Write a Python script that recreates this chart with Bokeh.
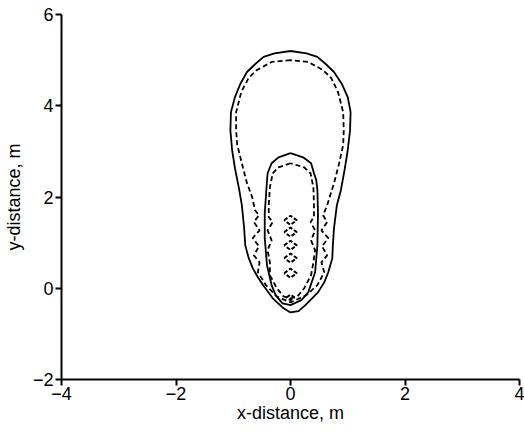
from bokeh.plotting import figure
from bokeh.models import Range1d, FixedTicker
from bokeh.embed import file_html
from bokeh.resources import INLINE

# ---- data (in metres) ----
x_ticks = [-4, -2, 0, 2, 4]
y_ticks = [-2, 0, 2, 4, 6]
tick_text = {-4: "\u22124", -2: "\u22122", 0: "0", 2: "2", 4: "4", 6: "6"}
x_title = "x-distance, m"
y_title = "y-distance, m"

outer_solid_x = [0, -0.28, -0.47, -0.62, -0.76, -0.88, -0.97, -1.04, -1.05, -1.02, -0.97, -0.90,
                 -0.85, -0.81, -0.79, -0.73, -0.66, -0.57, -0.48, -0.31, -0.14, 0,
                 0.14, 0.26, 0.48, 0.59, 0.66, 0.73, 0.74, 0.76, 0.81, 0.88, 0.95, 1.00, 1.04,
                 1.05, 1.00, 0.90, 0.76, 0.62, 0.47, 0.28, 0]
outer_solid_y = [5.20, 5.15, 5.07, 4.91, 4.74, 4.47, 4.19, 3.86, 3.46, 3.03, 2.63, 2.19,
                 1.82, 1.32, 0.94, 0.66, 0.44, 0.24, 0.07, -0.22, -0.42, -0.53,
                 -0.50, -0.37, -0.09, 0.13, 0.35, 0.66, 0.94, 1.32, 1.82, 2.15, 2.63, 3.03, 3.46,
                 3.86, 4.19, 4.47, 4.74, 4.91, 5.07, 5.15, 5.20]

outer_dash_x = [0, -0.33, -0.59, -0.73, -0.86, -0.95, -0.95, -0.93, -0.85, -0.76, -0.67, -0.62,
                -0.55, -0.64, -0.54, -0.66, -0.55, -0.64, -0.54, -0.57, -0.43, -0.24, 0,
                0.28, 0.47, 0.59, 0.54, 0.64, 0.55, 0.66, 0.54, 0.64, 0.57, 0.64, 0.76, 0.85,
                0.92, 0.93, 0.92, 0.83, 0.71, 0.57, 0.31, 0]
outer_dash_y = [5.00, 4.96, 4.78, 4.61, 4.30, 3.86, 3.46, 3.14, 2.74, 2.30, 2.00, 1.71,
                1.60, 1.45, 1.27, 1.10, 0.92, 0.72, 0.57, 0.35, 0.07, -0.18, -0.31,
                -0.15, 0.07, 0.35, 0.57, 0.72, 0.92, 1.10, 1.27, 1.45, 1.60, 1.82, 2.30, 2.74,
                3.14, 3.46, 3.86, 4.30, 4.61, 4.78, 4.96, 5.00]

inner_solid_x = [0, -0.21, -0.33, -0.40, -0.41, -0.43, -0.45, -0.45, -0.41, -0.33, -0.26, -0.14, 0,
                 0.19, 0.31, 0.43, 0.47, 0.48, 0.47, 0.45, 0.41, 0.36, 0.22, 0]
inner_solid_y = [2.96, 2.87, 2.74, 2.52, 2.37, 2.00, 1.64, 1.10, 0.50, 0.07, -0.15, -0.33, -0.37,
                 -0.26, -0.09, 0.35, 0.94, 1.64, 2.15, 2.37, 2.52, 2.74, 2.87, 2.96]

inner_dash_x = [0, -0.21, -0.31, -0.36, -0.38, -0.38, -0.31, -0.40, -0.33, -0.40, -0.36, -0.36,
                -0.24, -0.12, 0, 0.12, 0.24, 0.36, 0.40, 0.43, 0.36, 0.43, 0.35, 0.41, 0.41,
                0.40, 0.35, 0.24, 0]
inner_dash_y = [2.74, 2.65, 2.52, 2.21, 1.82, 1.56, 1.45, 1.27, 1.05, 0.83, 0.57, 0.29,
                0.00, -0.18, -0.22, -0.18, 0.00, 0.29, 0.57, 0.83, 1.05, 1.27, 1.45, 1.56, 1.82,
                2.21, 2.52, 2.65, 2.74]

diamond_x = [0, 0, 0, 0, 0, 0]
diamond_y = [1.49, 1.23, 0.94, 0.66, 0.33, -0.20]

# ---- figure ----
p = figure(width=524, height=431, output_backend="svg", toolbar_location=None,
           x_range=Range1d(-4, 4), y_range=Range1d(-2, 6),
           min_border_left=57, min_border_right=5, min_border_top=14, min_border_bottom=52)
p.outline_line_color = None
p.grid.visible = False
p.background_fill_color = "white"
p.border_fill_color = "white"

font = "Liberation Sans"
for ax, ticks, title in ((p.xaxis[0], x_ticks, x_title), (p.yaxis[0], y_ticks, y_title)):
    ax.ticker = FixedTicker(ticks=ticks)
    ax.major_label_overrides = {t: tick_text[t] for t in ticks}
    ax.axis_line_width = 2
    ax.axis_line_color = "black"
    ax.major_tick_line_width = 2
    ax.major_tick_line_color = "black"
    ax.major_tick_in = 0
    ax.major_tick_out = 6
    ax.minor_tick_line_color = None
    ax.major_label_text_font = font
    ax.major_label_text_font_size = "18px"
    ax.major_label_text_color = "black"
    ax.major_label_standoff = 2
    ax.axis_label = title
    ax.axis_label_text_font = font
    ax.axis_label_text_font_size = "18px"
    ax.axis_label_text_font_style = "normal"
    ax.axis_label_text_color = "black"
p.xaxis[0].major_label_standoff = 1
p.xaxis[0].axis_label_standoff = 0
p.yaxis[0].axis_label_standoff = 6

lw = 1.8
dash = "5 3"
p.line(outer_solid_x, outer_solid_y, line_color="black", line_width=lw)
p.line(inner_solid_x, inner_solid_y, line_color="black", line_width=lw)
p.line(outer_dash_x, outer_dash_y, line_color="black", line_width=lw, line_dash=dash)
p.line(inner_dash_x, inner_dash_y, line_color="black", line_width=lw, line_dash=dash)

hw, hh = 0.11, 0.1
dxs, dys = [], []
for i, (cx, cy) in enumerate(zip(diamond_x, diamond_y)):
    s = 0.6 if i == len(diamond_y) - 1 else 1.0
    dxs.append([cx - hw * s, cx, cx + hw * s, cx, cx - hw * s])
    dys.append([cy, cy + hh * s, cy, cy - hh * s, cy])
p.multi_line(dxs, dys, line_color="black", line_width=2, line_dash="4 2")

open("out.html", "w").write(file_html(p, INLINE))
